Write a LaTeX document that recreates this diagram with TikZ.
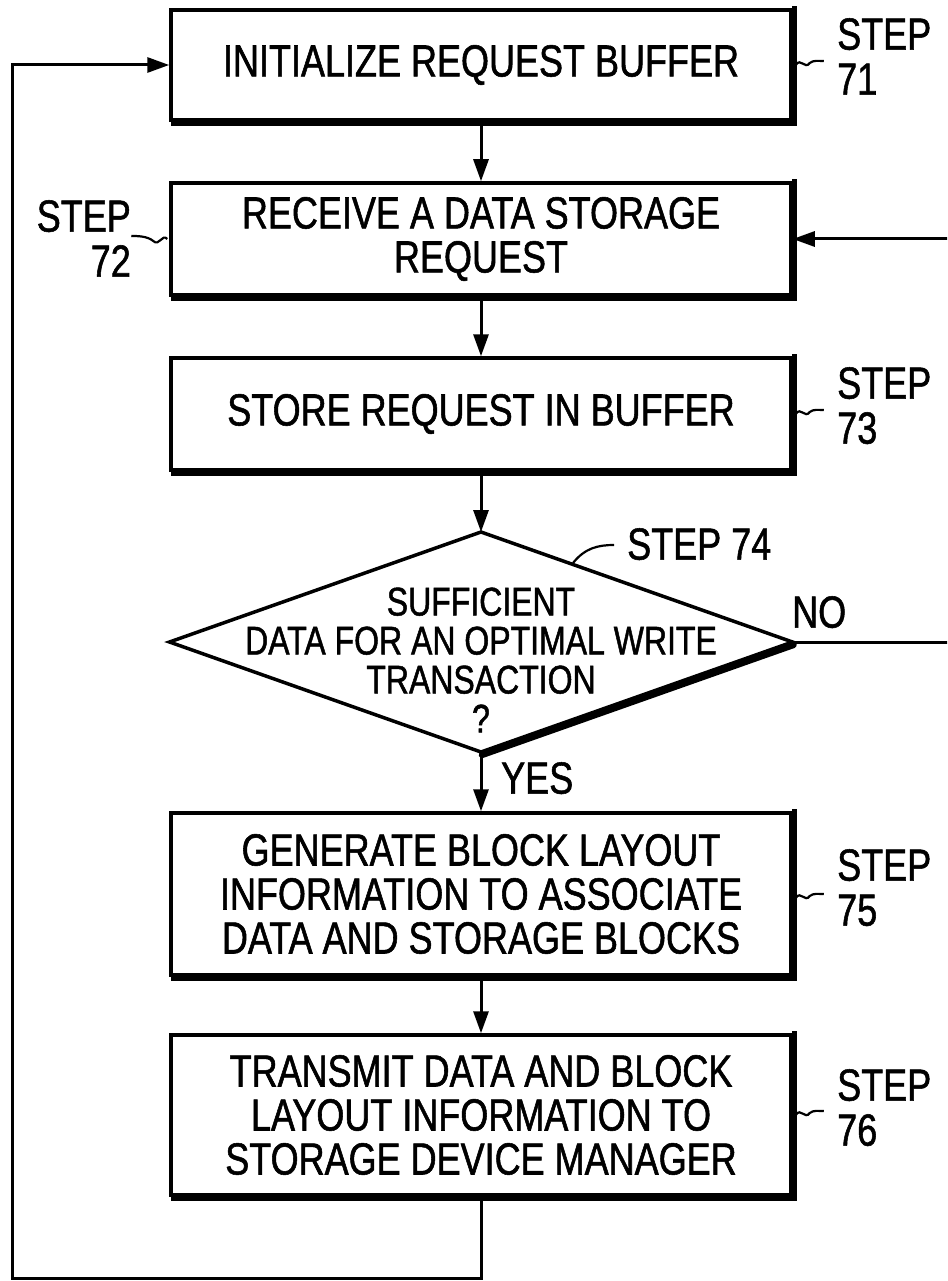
\documentclass[tikz,border=0pt]{standalone}
\usepackage{fontspec}
\setmainfont[FakeStretch=0.8,FakeBold=1.2]{Liberation Sans}
\usetikzlibrary{arrows.meta,shapes.geometric}
\newcommand\boxfont{\fontsize{45}{44}\selectfont}
\newcommand\dfont{\fontsize{40}{39}\selectfont}
\begin{document}
\begin{tikzpicture}[x=1pt,y=-1pt,
  box/.style={draw, line width=3.5pt, minimum width=620pt, align=center, font=\boxfont, inner sep=0pt},
  conn/.style={line width=3pt},
  arr/.style={conn, -{Triangle[length=22pt,width=15pt]}},
  lbl/.style={font=\boxfont, inner sep=0pt, align=left},
  squig/.style={line width=2.2pt},
  shadow/.style={line width=5pt}]
\useasboundingbox (0,0) rectangle (947,1281);
\clip (0,0) rectangle (947,1281);

\node[box, minimum height=110pt] (b1) at (481,65) {INITIALIZE REQUEST BUFFER};
\node[box, minimum height=112pt] (b2) at (481,239) {RECEIVE A DATA STORAGE\\REQUEST};
\node[box, minimum height=112pt] (b3) at (481,414) {STORE REQUEST IN BUFFER};
\node[diamond, draw, line width=3.5pt, minimum width=623pt, minimum height=220pt, inner sep=0pt, outer sep=0pt] (d) at (481,642) {};
\node[font=\dfont, align=center, inner sep=0pt] (dt) at (481,660) {SUFFICIENT\\DATA FOR AN OPTIMAL WRITE\\TRANSACTION\\?};
\node[box, minimum height=162pt] (b5) at (481,894) {GENERATE BLOCK LAYOUT\\INFORMATION TO ASSOCIATE\\DATA AND STORAGE BLOCKS};
\node[box, minimum height=160pt] (b6) at (481,1115) {TRANSMIT DATA AND BLOCK\\LAYOUT INFORMATION TO\\STORAGE DEVICE MANAGER};

% shadows
\foreach \n in {b1,b2,b3,b5,b6}
  \draw[shadow] ([shift={(2pt,-2pt)}]\n.south west) -- ([shift={(2pt,-2pt)}]\n.south east) -- ([shift={(2pt,2pt)}]\n.north east);
\draw[line width=6.5pt, line cap=round] ([shift={(1pt,-2.9pt)}]d.east) -- ([shift={(1pt,-2.9pt)}]d.south);

% labels
\node[lbl, anchor=north west] (s71) at (837,18) {STEP\\[1pt]71};
\node[lbl, anchor=north east, align=right] (s72) at (131,200) {STEP\\[1pt]72};
\node[lbl, anchor=north west] (s73) at (837,367) {STEP\\[1pt]73};
\node[lbl, anchor=north west] (s74) at (627,528) {STEP 74};
\node[lbl, anchor=north west] (s75) at (837,849) {STEP\\[1pt]75};
\node[lbl, anchor=north west] (s76) at (837,1069) {STEP\\[1pt]76};
\node[lbl, anchor=north west] (no) at (792,596) {NO};
\node[lbl, anchor=north west] (yes) at (501,762) {YES};

% squiggles
\draw[squig] (b1.east) ++(3pt,0) .. controls ++(5,-8) and ++(-5,7) .. ++(14,-2) .. controls ++(4,-3) and ++(-6,0) .. ++(14,-2);
\draw[squig] (b3.east) ++(3pt,0) .. controls ++(5,-8) and ++(-5,7) .. ++(14,-2) .. controls ++(4,-3) and ++(-6,0) .. ++(14,-2);
\draw[squig] (b5.east) ++(3pt,-4pt) .. controls ++(5,-8) and ++(-5,7) .. ++(14,-2) .. controls ++(4,-3) and ++(-6,0) .. ++(14,-2);
\draw[squig] (b6.east) ++(3pt,0) .. controls ++(5,-8) and ++(-5,7) .. ++(14,-2) .. controls ++(4,-3) and ++(-6,0) .. ++(14,-2);
\draw[squig] (b2.west) ++(-2pt,0) .. controls ++(-5,-6) and ++(6,6) .. ++(-14,2) .. controls ++(-6,-5) and ++(6,0) .. ++(-22,-5);
\draw[squig] (573,563) .. controls (585,548) and (598,545) .. (614,545);

% connectors
\coordinate (lb) at (12,1278);
\coordinate (nr) at (960,642);
\draw[arr] (b1.south) -- (b2.north);
\draw[arr] (b2.south) -- (b3.north);
\draw[arr] (b3.south) -- (d.north);
\draw[arr] (d.south) -- (b5.north);
\draw[arr] (b5.south) -- (b6.north);
\draw[arr] (b6.south) |- (lb) |- (b1.west);
\draw[arr] (d.east) -- (nr) |- (b2.east);
\end{tikzpicture}
\end{document}
